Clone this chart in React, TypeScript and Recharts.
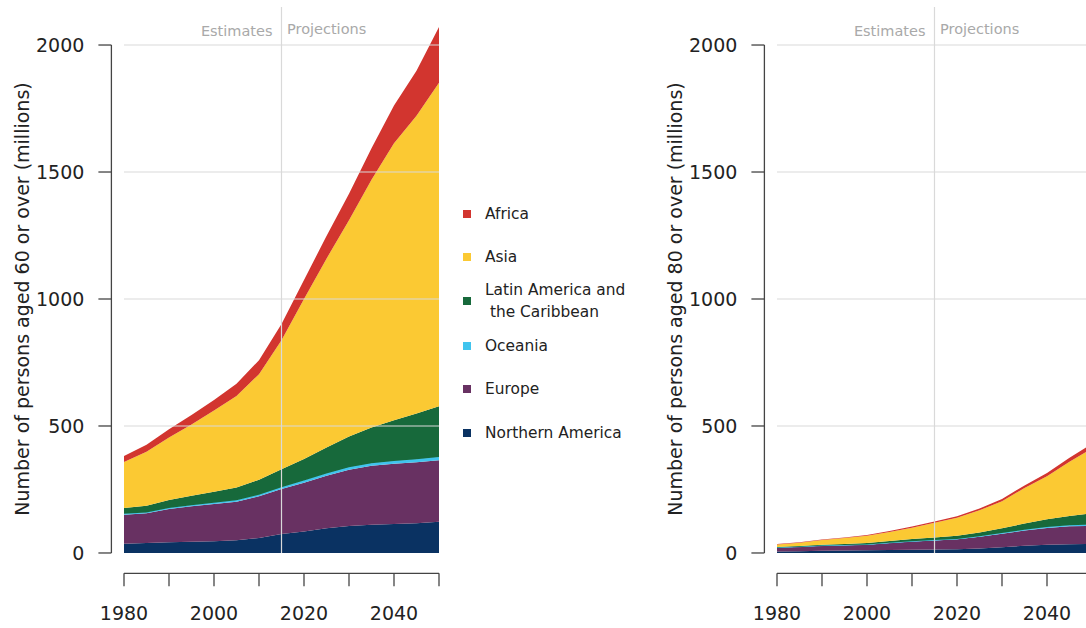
import React from 'react';
import { AreaChart, Area, XAxis, YAxis, ReferenceLine } from 'recharts';

// 5-year points, UN estimates up to 2015, projections after
const years = [1980, 1985, 1990, 1995, 2000, 2005, 2010, 2015, 2020, 2025, 2030, 2035, 2040, 2045, 2050];

// persons aged 60+ (millions)
const northernAmerica60 = [36, 39, 42, 44, 46, 50, 59, 75, 85, 97, 106, 111, 114, 117, 123];
const europe60 = [115, 117, 131, 140, 147, 152, 164, 177, 192, 207, 222, 232, 237, 240, 242];
const oceania60 = [3.0, 3.4, 3.8, 4.2, 4.8, 5.4, 6.1, 6.9, 7.9, 8.9, 9.8, 10.7, 11.5, 12.4, 13.2];
const latinAmerica60 = [23, 27, 32, 37, 43, 50, 59, 71, 85, 102, 121, 140, 160, 180, 200];
const asia60 = [181, 212, 246, 281, 320, 361, 416, 508, 630, 744, 851, 976, 1091, 1172, 1273];
const africa60 = [24, 28, 32, 37, 42, 48, 55, 64, 75, 89, 105, 124, 148, 177, 220];

// persons aged 80+ (millions)
const northernAmerica80 = [6.0, 7.3, 8.5, 9.6, 10.8, 12.0, 12.8, 13.5, 14.6, 17.8, 23.0, 28.5, 32.6, 34.8, 36.0];
const europe80 = [15, 17, 20, 20.5, 22, 27, 32, 36, 39, 46, 53, 60, 66, 70, 71];
const oceania80 = [0.5, 0.6, 0.7, 0.9, 1.0, 1.2, 1.4, 1.6, 1.8, 2.2, 2.7, 3.3, 3.9, 4.3, 4.7];
const latinAmerica80 = [2.2, 2.8, 3.6, 4.5, 5.6, 6.9, 8.5, 10, 12, 15, 19, 24, 30, 37, 44];
const asia80 = [10, 13, 18, 23, 28, 36, 45, 58, 71, 87, 106, 140, 170, 213, 256];
const africa80 = [1.5, 1.8, 2.1, 2.5, 3.0, 3.6, 4.3, 5.0, 6.0, 7.2, 8.6, 10.3, 12.5, 15.5, 19];

const yTicks = [0, 500, 1000, 1500, 2000];
const xTicks = [1980, 1990, 2000, 2010, 2020, 2030, 2040, 2050];
const xLabels = [1980, 2000, 2020, 2040];

// bottom to top of the stack
const regions = [
  { key: 'northernAmerica', name: 'Northern America', color: '#0a3262' },
  { key: 'europe', name: 'Europe', color: '#683162' },
  { key: 'oceania', name: 'Oceania', color: '#40c4ee' },
  { key: 'latinAmerica', name: 'Latin America and\n the Caribbean', color: '#17693b' },
  { key: 'asia', name: 'Asia', color: '#fbc933' },
  { key: 'africa', name: 'Africa', color: '#d2352f' },
];

const buildRows = (na: number[], eu: number[], oc: number[], la: number[], as: number[], af: number[]) =>
  years.map((year, i) => ({
    year,
    northernAmerica: na[i],
    europe: eu[i],
    oceania: oc[i],
    latinAmerica: la[i],
    asia: as[i],
    africa: af[i],
  }));

const data60 = buildRows(northernAmerica60, europe60, oceania60, latinAmerica60, asia60, africa60);
const data80 = buildRows(northernAmerica80, europe80, oceania80, latinAmerica80, asia80, africa80);

const FONT = '"DejaVu Sans", Verdana, sans-serif';
const AXIS = '#444';
const GRID = '#d9d9d9';

const AxisTitle = ({ viewBox, value }: any) => {
  const cx = viewBox.x + viewBox.width - 89.4;
  const cy = viewBox.y + viewBox.height / 2;
  return (
    <text
      x={cx}
      y={cy}
      transform={`rotate(-90 ${cx} ${cy})`}
      textAnchor="middle"
      dominantBaseline="central"
      fontFamily={FONT}
      fontSize={19}
      fill="#222"
    >
      {value}
    </text>
  );
};

// like R, only every other tick gets a label (the rest would overlap)
const YearTick = ({ x, y, payload }: any) =>
  xLabels.includes(payload.value) ? (
    <text x={x} y={y} dy="0.71em" textAnchor="middle" fontFamily={FONT} fontSize={19} fill="#222">
      {payload.value}
    </text>
  ) : (
    <g />
  );

const PeriodLabels = ({ viewBox }: any) => (
  <g fontFamily={FONT} fontSize={14.5} fill="#a9a9a9">
    <text x={viewBox.x - 9} y={viewBox.y + 29} textAnchor="end">
      Estimates
    </text>
    <text x={viewBox.x + 5.5} y={viewBox.y + 27.5}>
      Projections
    </text>
  </g>
);

interface AgeingChartProps {
  data: typeof data60;
  title: string;
  left: number;
}

const AgeingChart: React.FC<AgeingChartProps> = ({ data, title, left }) => (
  <div style={{ position: 'absolute', left, top: 0 }}>
    <AreaChart
      width={470}
      height={628}
      data={data}
      margin={{ top: 24.7, right: 18.4, left: 0, bottom: 9.7 }}
    >
      <XAxis
        dataKey="year"
        type="number"
        domain={[1977.2, 2052.8]}
        allowDataOverflow
        ticks={xTicks}
        interval={0}
        height={45}
        axisLine={false}
        tickSize={13}
        tickMargin={20}
        tickLine={{ stroke: AXIS, strokeWidth: 1.3 }}
        tick={<YearTick />}
      />
      <YAxis
        type="number"
        domain={[-80, 2080]}
        allowDataOverflow
        ticks={yTicks}
        interval={0}
        width={111.4}
        axisLine={false}
        tickSize={13}
        tickMargin={14}
        tickLine={{ stroke: AXIS, strokeWidth: 1.3 }}
        tick={{ fill: '#222', fontSize: 19, fontFamily: FONT }}
        label={<AxisTitle value={title} />}
      />
      {regions.map((r) => (
        <Area
          key={r.key}
          dataKey={r.key}
          stackId="1"
          type="linear"
          fill={r.color}
          fillOpacity={1}
          stroke={r.key === 'oceania' ? r.color : 'none'}
          strokeWidth={1}
          isAnimationActive={false}
        />
      ))}
      {yTicks
        .filter((t) => t > 0)
        .map((t) => (
          <ReferenceLine
            key={t}
            segment={[{ x: 1980, y: t }, { x: 2050, y: t }]}
            stroke={GRID}
            strokeWidth={1.2}
            ifOverflow="visible"
          />
        ))}
      <ReferenceLine
        segment={[{ x: 2015, y: 0 }, { x: 2015, y: 2150 }]}
        stroke={GRID}
        strokeWidth={1.2}
        ifOverflow="visible"
        label={<PeriodLabels />}
      />
      <ReferenceLine
        segment={[{ x: 1977.2, y: 0 }, { x: 1977.2, y: 2000 }]}
        stroke={AXIS}
        strokeWidth={1.3}
        ifOverflow="visible"
      />
      <ReferenceLine
        segment={[{ x: 1980, y: -80 }, { x: 2050, y: -80 }]}
        stroke={AXIS}
        strokeWidth={1.3}
        ifOverflow="visible"
      />
    </AreaChart>
  </div>
);

// legend rows, top to bottom (centre y in px)
const legendRows = [
  { key: 'africa', y: 214 },
  { key: 'asia', y: 257 },
  { key: 'latinAmerica', y: 301 },
  { key: 'oceania', y: 346 },
  { key: 'europe', y: 389 },
  { key: 'northernAmerica', y: 433 },
];

const App: React.FC = () => (
  <div
    style={{
      position: 'absolute',
      left: 0,
      top: 0,
      width: 1086,
      height: 628,
      overflow: 'hidden',
      background: '#fff',
      fontFamily: FONT,
    }}
  >
    <AgeingChart data={data60} title="Number of persons aged 60 or over (millions)" left={0} />
    <AgeingChart data={data80} title="Number of persons aged 80 or over (millions)" left={653} />

    {legendRows.map((row) => {
      const region = regions.find((r) => r.key === row.key)!;
      const lines = region.name.split('\n');
      return (
        <div
          key={row.key}
          style={{
            position: 'absolute',
            left: 463,
            top: row.y - lines.length * 11,
            display: 'flex',
            alignItems: 'center',
          }}
        >
          <div style={{ width: 8, height: 8, background: region.color, marginRight: 14 }} />
          <div style={{ fontSize: 15.4, lineHeight: '22px', color: '#222', whiteSpace: 'pre' }}>
            {lines.join('\n')}
          </div>
        </div>
      );
    })}
  </div>
);

export default App;
